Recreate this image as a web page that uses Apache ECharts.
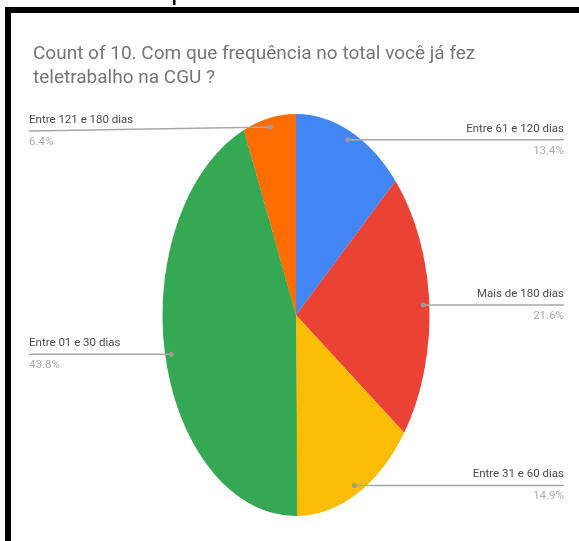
<!DOCTYPE html>
<html><head><meta charset="utf-8">
<script src="https://cdn.jsdelivr.net/npm/echarts@6/dist/echarts.min.js"></script>
<style>
html,body{margin:0;padding:0;background:#fff;}
#wrap{position:relative;width:579px;height:541px;overflow:hidden;background:#fff;}
#pie,#main{position:absolute;left:0;top:0;width:579px;height:541px;}
#pie{transform:scaleX(0.664);transform-origin:296px 315px;}
</style></head><body>
<div id="wrap"><div id="pie"></div><div id="main"></div></div>
<script>
// ---- data ----
const categories = ['Entre 61 e 120 dias', 'Mais de 180 dias', 'Entre 31 e 60 dias', 'Entre 01 e 30 dias', 'Entre 121 e 180 dias'];
const percentages = [13.4, 21.6, 14.9, 43.8, 6.4];
const sliceColors = ['#4285F4', '#EA4335', '#FBBC04', '#34A853', '#FF6D01'];
const titleText = 'Count of 10. Com que frequência no total você já fez\nteletrabalho na CGU ?';

// ---- layout constants ----
const CX = 296, CY = 315, R = 201, SX = 0.664, DOT_R = 0.955;
const LABEL_LEFT = 29, LABEL_RIGHT = 564, LABEL_MIN_Y = 131;

const data = categories.map((c, i) => ({ name: c, value: percentages[i] }));

// dot position inside the (elliptical) slice, derived from the library's edge point
function dotOf(p) {
  return [CX + (p[0] - CX) * SX * DOT_R, CY + (p[1] - CY) * DOT_R];
}

const pieChart = echarts.init(document.getElementById('pie'));
pieChart.setOption({
  animation: false,
  color: sliceColors,
  series: [{
    type: 'pie', center: [CX, CY], radius: R, startAngle: 90, clockwise: true,
    data: data, silent: true,
    label: { show: false }, labelLine: { show: false },
    itemStyle: { borderWidth: 0 }
  }]
});

const mainChart = echarts.init(document.getElementById('main'));
const transparent = 'rgba(0,0,0,0)';
mainChart.setOption({
  animation: false,
  title: {
    text: titleText, left: 28, top: 37,
    textStyle: { fontFamily: 'Roboto', fontSize: 19, fontWeight: 'normal', color: '#757575', lineHeight: 24 }
  },
  graphic: [
    { type: 'rect', shape: { x: 5, y: 7, width: 574, height: 6 }, style: { fill: '#000' } },
    { type: 'rect', shape: { x: 5, y: 7, width: 6, height: 534 }, style: { fill: '#000' } },
    { type: 'rect', shape: { x: 173, y: 0, width: 2.5, height: 5 }, style: { fill: '#000' } }
  ],
  series: [
    {
      type: 'pie', center: [CX, CY], radius: R, startAngle: 90, clockwise: true,
      data: data, silent: true,
      itemStyle: { color: transparent, borderWidth: 0 },
      label: {
        show: true, position: 'outside', width: 180, overflow: 'none',
        formatter: p => '{n|' + p.name + '}\n{p|' + p.value.toFixed(1) + '%}',
        rich: {
          n: { fontFamily: 'Roboto', fontSize: 11.5, color: '#4a4a4a', lineHeight: 22 },
          p: { fontFamily: 'Roboto', fontSize: 11.5, color: '#ababab', lineHeight: 22 }
        }
      },
      labelLine: { show: true, length: 10, length2: 10, lineStyle: { color: '#a8a8a8', width: 1.5 } },
      labelLayout: function (params) {
        const d = dotOf(params.labelLinePoints[0]);
        const isRight = d[0] > CX;
        const y = Math.max(d[1], LABEL_MIN_Y);
        const endX = isRight ? LABEL_RIGHT : LABEL_LEFT;
        return { x: endX, y: y, align: isRight ? 'right' : 'left', verticalAlign: 'middle',
                 labelLinePoints: [d, [endX, y]] };
      }
    },
    {
      type: 'pie', center: [CX, CY], radius: R, startAngle: 90, clockwise: true,
      data: data, silent: true,
      itemStyle: { color: transparent, borderWidth: 0 },
      label: {
        show: true, position: 'outside', formatter: ' ', width: 5, height: 5, padding: 0,
        fontSize: 1, lineHeight: 5, backgroundColor: '#9a9a9a', borderRadius: 2.5, overflow: 'none'
      },
      labelLine: { show: true, lineStyle: { opacity: 0 } },
      labelLayout: function (params) {
        const d = dotOf(params.labelLinePoints[0]);
        return { x: d[0], y: d[1], align: 'center', verticalAlign: 'middle' };
      }
    }
  ]
});
</script>
</body></html>
